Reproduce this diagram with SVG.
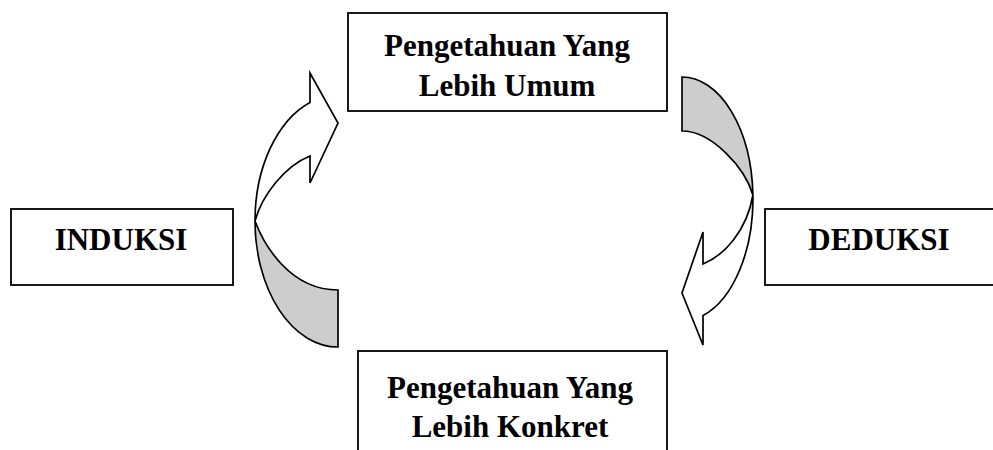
<svg xmlns="http://www.w3.org/2000/svg" width="993" height="450" viewBox="0 0 993 450">
  <style>
    .box { fill: #ffffff; stroke: #000000; stroke-width: 1.8; }
    .label { font-family: "Liberation Serif", "Times New Roman", serif; font-weight: bold; font-size: 31px; fill: #000000; text-anchor: middle; }
    .front { fill: #ffffff; stroke: #000000; stroke-width: 1.7; stroke-linejoin: miter; }
    .back { fill: #cdcdcd; stroke: #000000; stroke-width: 1.7; stroke-linejoin: miter; }
  </style>

  <rect width="993" height="450" fill="#ffffff"/>

  <!-- curved arrows: a shaded back half and a white front half that cross -->
  <g id="connectors">
    <!-- induction: rising arrow on the left -->
    <g id="arrow-induksi">
      <path class="back" d="M 255,221 A 83 126 0 0 0 338,347 L 338,290 C 290,290 264,245 255,221 Z"/>
      <path class="front" d="M 255,221 A 83 126 0 0 1 310,102.4 L 310,73 L 338,123 L 310,183 L 310,156 C 285,166 262,195 255,221 Z"/>
    </g>
    <!-- deduction: descending arrow on the right -->
    <g id="arrow-deduksi">
      <path class="back" d="M 682,77 A 71 122 0 0 1 752.9,195 C 745,168 712,131 682,131 Z"/>
      <path class="front" d="M 752.9,195 A 71 122 0 0 1 703,315.5 L 703,345 L 682,293 L 703,232 L 703,264 C 725,255 747,230 752.9,195 Z"/>
    </g>
  </g>

  <g id="node-umum">
    <rect class="box" x="348" y="13" width="319" height="98"/>
    <text class="label" x="507" y="56">Pengetahuan Yang</text>
    <text class="label" x="507" y="96">Lebih Umum</text>
  </g>

  <g id="node-konkret">
    <rect class="box" x="358" y="351" width="309" height="110"/>
    <text class="label" x="510" y="398">Pengetahuan Yang</text>
    <text class="label" x="510" y="437">Lebih Konkret</text>
  </g>

  <g id="node-induksi">
    <rect class="box" x="11" y="209" width="222" height="76"/>
    <text class="label" x="121" y="250">INDUKSI</text>
  </g>

  <g id="node-deduksi">
    <rect class="box" x="765" y="209" width="240" height="76"/>
    <text class="label" x="879" y="250">DEDUKSI</text>
  </g>
</svg>
